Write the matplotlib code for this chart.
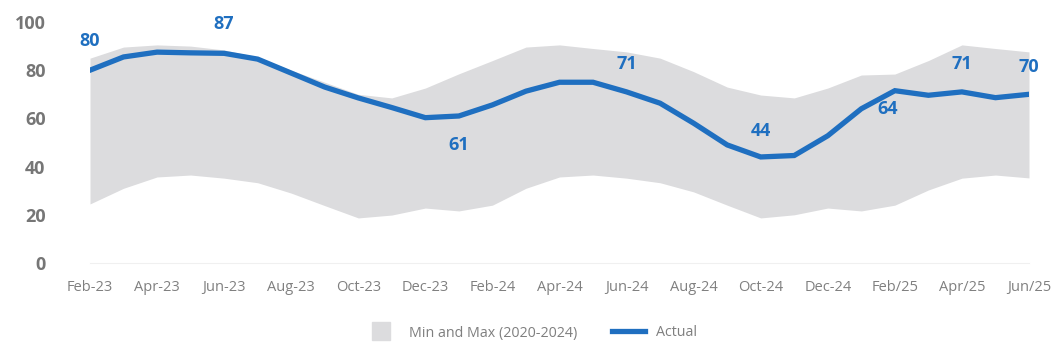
import matplotlib.pyplot as plt
from matplotlib.lines import Line2D

# months Feb-23 .. Jun-25
months = ["Feb-23", "Mar-23", "Apr-23", "May-23", "Jun-23", "Jul-23", "Aug-23", "Sep-23",
          "Oct-23", "Nov-23", "Dec-23", "Jan-24", "Feb-24", "Mar-24", "Apr-24", "May-24",
          "Jun-24", "Jul-24", "Aug-24", "Sep-24", "Oct-24", "Nov-24", "Dec-24", "Jan-25",
          "Feb/25", "Mar/25", "Apr/25", "May/25", "Jun/25"]

actual = [80, 85.5, 87.5, 87.2, 87, 84.6, 78.8, 73, 68.5, 64.5, 60.3, 61, 65.6, 71.3, 75,
          75, 71, 66.3, 58, 49, 44, 44.6, 52.8, 64, 71.5, 69.6, 71, 68.6, 70]
band_max = [85, 89.6, 90.5, 90, 88.4, 85.5, 80, 75, 70, 68.5, 72.6, 78.5, 84, 89.6, 90.5,
            89, 87.6, 85, 79.4, 73, 69.7, 68.5, 72.6, 78, 78.4, 84, 90.5, 89, 87.6]
band_min = [24.5, 31, 35.7, 36.5, 35.2, 33.3, 29, 23.8, 18.7, 19.9, 22.8, 21.6, 24, 31, 35.7,
            36.5, 35.2, 33.3, 29.5, 24, 18.7, 20, 22.8, 21.6, 24, 30.3, 35.2, 36.5, 35.3]

# labelled points: (index, text, dx, dy) in points
labels = [(0, "80", 0, 21), (4, "87", 0, 21), (11, "61", 0, -21), (16, "71", 0, 20),
          (20, "44", 0, 19), (23, "64", 19, 0), (26, "71", 0, 20), (28, "70", 0, 20)]

blue = "#1f6fc0"
grey = "#dcdcde"
plt.rcParams["font.family"] = ["Open Sans", "DejaVu Sans"]

fig = plt.figure(figsize=(10.62, 3.55), dpi=100)
ax = fig.add_axes([90 / 1062, 92 / 355, 939 / 1062, 241 / 355])

x = list(range(len(months)))
ax.fill_between(x, band_min, band_max, color=grey, linewidth=0)
ax.plot(x, actual, color=blue, linewidth=3.8, solid_joinstyle="miter")

for i, t, dx, dy in labels:
    ax.annotate(t, (i, actual[i]), xytext=(dx, dy), textcoords="offset points",
                ha="center", va="center", color=blue, fontsize=13, fontweight="bold")

ax.set_xlim(0, len(months) - 1)
ax.set_ylim(0, 100)
ax.set_yticks([0, 20, 40, 60, 80, 100])
ax.set_xticks(x[::2])
ax.set_xticklabels(months[::2])
ax.tick_params(axis="y", length=0, pad=32, labelsize=13, labelcolor="#767676")
ax.tick_params(axis="x", length=0, pad=12, labelsize=10.5, labelcolor="#808080")
for lab in ax.get_yticklabels():
    lab.set_fontweight("bold")
for s in ["top", "right", "left"]:
    ax.spines[s].set_visible(False)
ax.spines["bottom"].set_color("#f0f0f0")

handles = [Line2D([], [], marker="s", markersize=13, color=grey, linestyle="none"),
           Line2D([], [], color=blue, linewidth=3.8)]
fig.legend(handles, ["Min and Max (2020-2024)", "Actual"], loc="center",
           bbox_to_anchor=(0.5, 22 / 355), ncol=2, frameon=False, fontsize=10.3,
           labelcolor="#7f7f7f", handlelength=2.3, columnspacing=2.4, handletextpad=0.8)

fig.savefig("out.png", dpi=100)
